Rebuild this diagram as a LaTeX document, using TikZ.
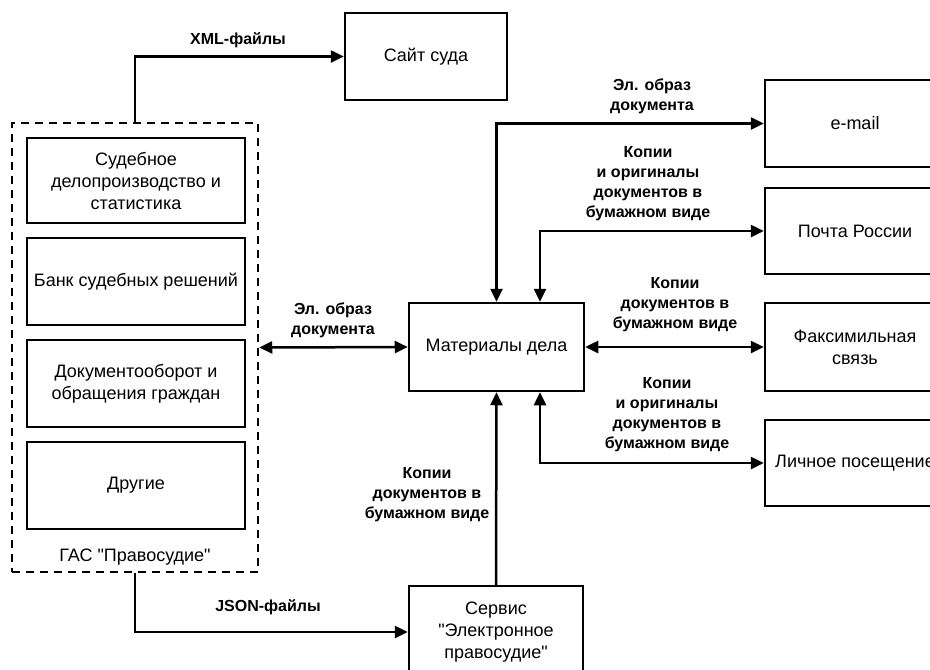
\documentclass[tikz,border=0pt]{standalone}
\usepackage{fontspec}
\setmainfont{Liberation Sans}
\newfontfamily\kvfont{Liberation Sans}
\usetikzlibrary{arrows.meta}

\newcommand{\kv}{{\kvfont\char34}}

\tikzset{
    blok/.style={draw, line width=2.5pt, align=center, inner sep=0pt,
        font=\fontsize{18}{22}\selectfont},
    metka/.style={align=center, inner sep=0pt,
        font=\bfseries\fontsize{16}{20}\selectfont},
    strelka/.style={line width=2.5pt, -{Triangle[length=13pt,width=12pt]}},
    dvustrelka/.style={line width=2.5pt, {Triangle[length=13pt,width=12pt]}-{Triangle[length=13pt,width=12pt]}},
}

\begin{document}
\begin{tikzpicture}[x=1pt,y=-1pt]
        \useasboundingbox (0,0) rectangle (930,670);
        \clip (0,0) rectangle (930,670);

        \node [blok, minimum width=162, minimum height=87] (sajt) at (426,56.5) {Сайт суда};

        \node [draw, line width=2.5pt, dash pattern=on 8pt off 6pt, minimum width=246, minimum height=449] (gas) at (135,347.5) {};
        \node [blok, minimum width=218, minimum height=85] (sud) at (136,180.5) {Судебное\\делопроизводство и\\статистика};
        \node [blok, minimum width=218, minimum height=87] (bank) at (136,281.5) {Банк судебных решений};
        \node [blok, minimum width=218, minimum height=87] (dok) at (136,383.5) {Документооборот и\\обращения граждан};
        \node [blok, minimum width=218, minimum height=87] (drug) at (136,485.5) {Другие};
        \node [font=\fontsize{18}{22}\selectfont, inner sep=0pt] (gasname) at (135,557) {ГАС \kv Правосудие\kv};

        \node [blok, minimum width=175, minimum height=88] (mat) at (496.5,347) {Материалы дела};
        \node [blok, minimum width=174, minimum height=92] (servis) at (496,632) {Сервис\\\kv Электронное\\правосудие\kv};

        \node [blok, minimum width=180, minimum height=87] (email) at (855,123.5) {e-mail};
        \node [blok, minimum width=180, minimum height=86] (pochta) at (855,231) {Почта России};
        \node [blok, minimum width=180, minimum height=88] (faks) at (855,347) {Факсимильная\\связь};
        \node [blok, minimum width=180, minimum height=86] (lichnoe) at (855,463) {Личное посещение};

        \draw [strelka] (gas.north) |- (sajt.west);
        \draw [strelka] (gas.south) |- (servis.west);
        \draw [dvustrelka] (gas.east) -- (mat.west);
        \draw [dvustrelka] (mat.east) -- (faks.west);
        \draw [dvustrelka] (mat.north) |- (email.west);
        \draw [dvustrelka] ([xshift=43.5]mat.north) |- (pochta.west);
        \draw [dvustrelka] ([xshift=43.5]mat.south) |- (lichnoe.west);
        \draw [strelka] (servis.north) -- (mat.south);

        \node [metka] (lxml) at (238,40) {XML-файлы};
        \node [metka] (ljson) at (268,607) {JSON-файлы};
        \node [metka] (lgas) at (333,320) {Эл. образ\\документа};
        \node [metka] (lemail) at (652,96) {Эл. образ\\документа};
        \node [metka] (lpochta) at (648,184) {Копии\\и оригиналы\\документов в\\бумажном виде};
        \node [metka] (lfaks) at (675,305) {Копии\\документов в\\бумажном виде};
        \node [metka] (llichnoe) at (667,415) {Копии\\и оригиналы\\документов в\\бумажном виде};
        \node [metka] (lservis) at (427,495) {Копии\\документов в\\бумажном виде};
    \end{tikzpicture}
\end{document}
